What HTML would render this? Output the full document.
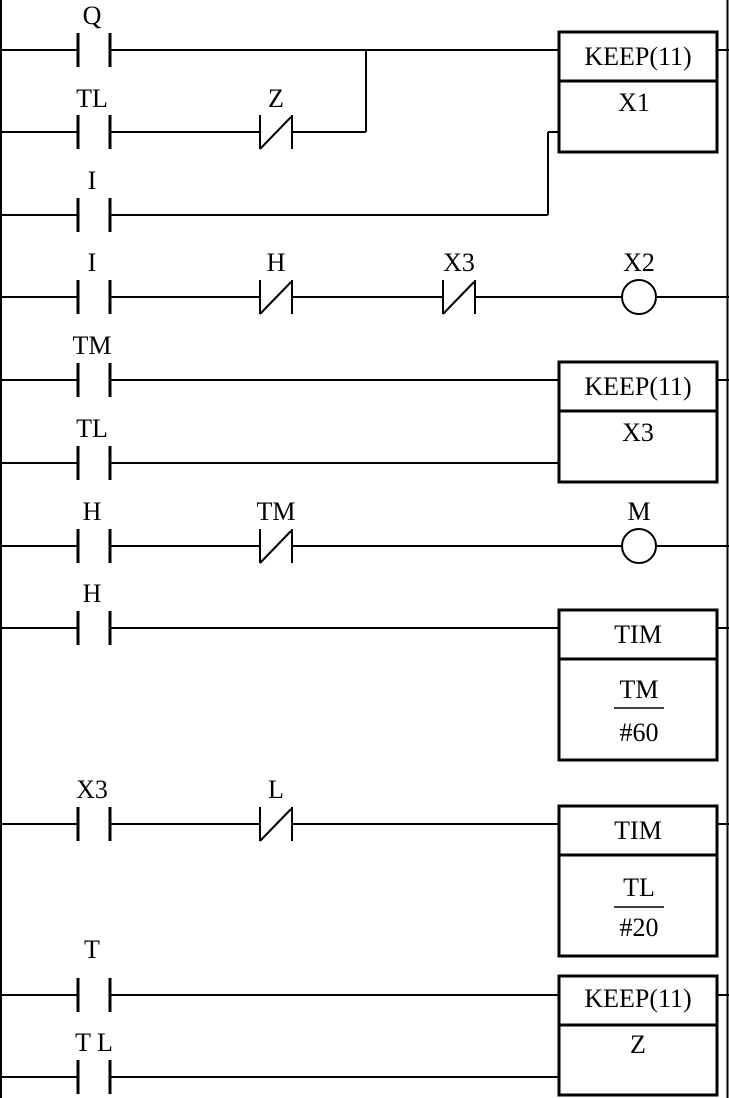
<!DOCTYPE html>
<html><head><meta charset="utf-8"><style>
html,body{margin:0;padding:0;background:#fff;}
svg{display:block;}
text{font-family:"Liberation Serif",serif;font-size:26px;fill:#000;text-anchor:middle;}
</style></head><body>
<svg width="729" height="1098" viewBox="0 0 729 1098" xmlns="http://www.w3.org/2000/svg">
<g stroke="#000" stroke-width="2" fill="none">
<line x1="1" y1="0" x2="1" y2="1098"/>
<line x1="727.5" y1="0" x2="727.5" y2="1098"/>
<line x1="0" y1="50" x2="78" y2="50"/><line x1="110" y1="50" x2="558" y2="50"/>
<line x1="717" y1="50" x2="729" y2="50"/>
<line x1="0" y1="132" x2="78" y2="132"/><line x1="110" y1="132" x2="259" y2="132"/><line x1="292" y1="132" x2="366" y2="132"/>
<line x1="366" y1="132" x2="366" y2="50"/>
<line x1="0" y1="215" x2="78" y2="215"/><line x1="110" y1="215" x2="548" y2="215"/>
<line x1="548" y1="215" x2="548" y2="132"/><line x1="548" y1="132" x2="558" y2="132"/>
<line x1="0" y1="297" x2="78" y2="297"/><line x1="110" y1="297" x2="259" y2="297"/><line x1="292" y1="297" x2="442" y2="297"/><line x1="475" y1="297" x2="622" y2="297"/><line x1="656" y1="297" x2="729" y2="297"/>
<circle cx="639" cy="297" r="17"/>
<line x1="0" y1="380" x2="78" y2="380"/><line x1="110" y1="380" x2="558" y2="380"/><line x1="717" y1="380" x2="729" y2="380"/>
<line x1="0" y1="463" x2="78" y2="463"/><line x1="110" y1="463" x2="558" y2="463"/>
<line x1="0" y1="546" x2="78" y2="546"/><line x1="110" y1="546" x2="259" y2="546"/><line x1="292" y1="546" x2="622" y2="546"/><line x1="656" y1="546" x2="729" y2="546"/>
<circle cx="639" cy="546" r="17"/>
<line x1="0" y1="628" x2="78" y2="628"/><line x1="110" y1="628" x2="558" y2="628"/><line x1="717" y1="628" x2="729" y2="628"/>
<line x1="0" y1="824" x2="78" y2="824"/><line x1="110" y1="824" x2="259" y2="824"/><line x1="292" y1="824" x2="558" y2="824"/><line x1="717" y1="824" x2="729" y2="824"/>
<line x1="0" y1="995" x2="78" y2="995"/><line x1="110" y1="995" x2="558" y2="995"/><line x1="717" y1="995" x2="729" y2="995"/>
<line x1="0" y1="1077" x2="78" y2="1077"/><line x1="110" y1="1077" x2="558" y2="1077"/>
</g>
<g stroke="#000" stroke-width="3">
<line x1="78" y1="33" x2="78" y2="67"/><line x1="110" y1="33" x2="110" y2="67"/>
<line x1="78" y1="115" x2="78" y2="149"/><line x1="110" y1="115" x2="110" y2="149"/>
<line x1="78" y1="198" x2="78" y2="232"/><line x1="110" y1="198" x2="110" y2="232"/>
<line x1="78" y1="280" x2="78" y2="314"/><line x1="110" y1="280" x2="110" y2="314"/>
<line x1="78" y1="363" x2="78" y2="397"/><line x1="110" y1="363" x2="110" y2="397"/>
<line x1="78" y1="446" x2="78" y2="480"/><line x1="110" y1="446" x2="110" y2="480"/>
<line x1="78" y1="529" x2="78" y2="563"/><line x1="110" y1="529" x2="110" y2="563"/>
<line x1="78" y1="611" x2="78" y2="645"/><line x1="110" y1="611" x2="110" y2="645"/>
<line x1="78" y1="807" x2="78" y2="841"/><line x1="110" y1="807" x2="110" y2="841"/>
<line x1="78" y1="978" x2="78" y2="1012"/><line x1="110" y1="978" x2="110" y2="1012"/>
<line x1="78" y1="1060" x2="78" y2="1094"/><line x1="110" y1="1060" x2="110" y2="1094"/>
</g>
<g stroke="#000" stroke-width="2">
<g transform="translate(0,132)"><line x1="260" y1="-17" x2="260" y2="17"/><line x1="292" y1="-17" x2="292" y2="17"/><line x1="260" y1="17" x2="291" y2="-15"/></g>
<g transform="translate(0,297)"><line x1="260" y1="-17" x2="260" y2="17"/><line x1="292" y1="-17" x2="292" y2="17"/><line x1="260" y1="17" x2="291" y2="-15"/></g>
<g transform="translate(183,297)"><line x1="260" y1="-17" x2="260" y2="17"/><line x1="292" y1="-17" x2="292" y2="17"/><line x1="260" y1="17" x2="291" y2="-15"/></g>
<g transform="translate(0,546)"><line x1="260" y1="-17" x2="260" y2="17"/><line x1="292" y1="-17" x2="292" y2="17"/><line x1="260" y1="17" x2="291" y2="-15"/></g>
<g transform="translate(0,824)"><line x1="260" y1="-17" x2="260" y2="17"/><line x1="292" y1="-17" x2="292" y2="17"/><line x1="260" y1="17" x2="291" y2="-15"/></g>
</g>
<g stroke="#000" stroke-width="3" fill="none">
<rect x="559" y="32" width="158" height="120"/><line x1="559" y1="81" x2="717" y2="81"/>
<rect x="559" y="362" width="158" height="120"/><line x1="559" y1="411" x2="717" y2="411"/>
<rect x="559" y="610" width="158" height="150"/><line x1="559" y1="659" x2="717" y2="659"/>
<rect x="559" y="806" width="158" height="150"/><line x1="559" y1="855" x2="717" y2="855"/>
<rect x="559" y="976" width="158" height="119"/><line x1="559" y1="1025" x2="717" y2="1025"/>
</g>
<g stroke="#000" stroke-width="1.5">
<line x1="614" y1="708" x2="664" y2="708"/>
<line x1="614" y1="907" x2="664" y2="907"/>
</g>
<text x="92" y="24">Q</text>
<text x="92" y="107">TL</text><text x="276" y="107">Z</text>
<text x="92" y="189">I</text>
<text x="92" y="271">I</text><text x="276" y="271">H</text><text x="459" y="271">X3</text><text x="639" y="271">X2</text>
<text x="92" y="354">TM</text>
<text x="92" y="437">TL</text>
<text x="92" y="520">H</text><text x="276" y="520">TM</text><text x="639" y="520">M</text>
<text x="92" y="602">H</text>
<text x="92" y="798">X3</text><text x="276" y="798">L</text>
<text x="92" y="958">T</text>
<text x="94" y="1051">T L</text>
<text x="638" y="65">KEEP(11)</text><text x="634" y="111">X1</text>
<text x="638" y="395">KEEP(11)</text><text x="638" y="441">X3</text>
<text x="638" y="643">TIM</text><text x="639" y="698">TM</text><text x="639" y="741">#60</text>
<text x="638" y="839">TIM</text><text x="639" y="896">TL</text><text x="639" y="936">#20</text>
<text x="638" y="1007">KEEP(11)</text><text x="638" y="1053">Z</text>
</svg>
</body></html>
